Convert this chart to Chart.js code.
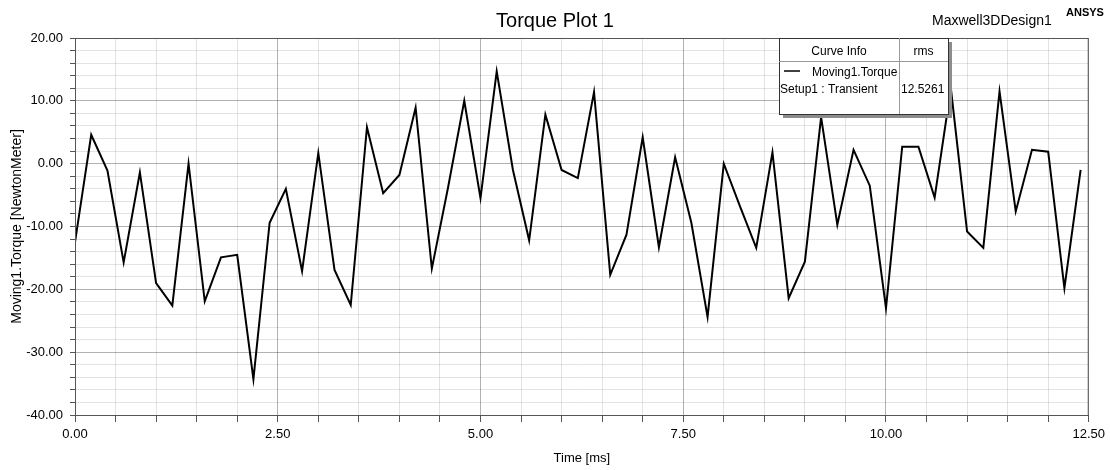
<!DOCTYPE html>
<html>
<head>
<meta charset="utf-8">
<title>Torque Plot 1</title>
<script src="https://cdn.jsdelivr.net/npm/chart.js@4.4.0/dist/chart.umd.min.js"></script>
<style>
html, body { margin: 0; padding: 0; background: #fff; }
#wrap { width: 1110px; height: 470px; }
</style>
</head>
<body>
<div id="wrap"><canvas id="torqueChart"></canvas></div>
<script>
// time in ms, one sample every 0.2 ms
var times = [0.0, 0.2, 0.4, 0.6, 0.8, 1.0, 1.2, 1.4, 1.6, 1.8,
	2.0, 2.2, 2.4, 2.6, 2.8, 3.0, 3.2, 3.4, 3.6, 3.8,
	4.0, 4.2, 4.4, 4.6, 4.8, 5.0, 5.2, 5.4, 5.6, 5.8,
	6.0, 6.2, 6.4, 6.6, 6.8, 7.0, 7.2, 7.4, 7.6, 7.8,
	8.0, 8.2, 8.4, 8.6, 8.8, 9.0, 9.2, 9.4, 9.6, 9.8,
	10.0, 10.2, 10.4, 10.6, 10.8, 11.0, 11.2, 11.4, 11.6, 11.8,
	12.0, 12.2, 12.4];

// Moving1.Torque [NewtonMeter]
var torque = [-12.5, 4.6, -1.1, -15.7, -1.4, -19.0, -22.6, 0.0, -21.9, -14.9,
	-14.5, -34.3, -9.4, -4.0, -17.1, 1.7, -16.9, -22.5, 5.8, -4.7,
	-1.8, 8.9, -16.7, -3.8, 10.0, -5.5, 14.7, -1.0, -12.2, 7.8,
	-1.0, -2.3, 11.4, -17.7, -11.3, 4.2, -13.3, 1.0, -9.4, -24.4,
	0.0, -6.8, -13.4, 1.8, -21.4, -15.6, 7.4, -9.7, 2.2, -3.5,
	-23.0, 2.7, 2.7, -5.4, 12.0, -10.8, -13.4, 11.5, -7.6, 2.2,
	1.9, -19.8, -1.0];

var xLabels = [0, 2.5, 5, 7.5, 10, 12.5];
var yLabels = [20, 10, 0, -10, -20, -30, -40];

var curveName = 'Moving1.Torque';
var setupName = 'Setup1 : Transient';
var rmsValue = '12.5261';

function isLabel(list, v) {
	for (var i = 0; i < list.length; i++) {
		if (Math.abs(list[i] - v) < 1e-6) return true;
	}
	return false;
}

var points = [];
for (var i = 0; i < times.length; i++) {
	points.push({x: times[i], y: torque[i]});
}

var FONT = '"Liberation Sans", Arial, sans-serif';
var MAJOR = 'rgba(0,0,0,0.30)';
var MINOR = 'rgba(0,0,0,0.11)';

// title, corner texts, plot frame and the curve info box
var decorations = {
	id: 'decorations',
	afterDraw: function (chart) {
		var ctx = chart.ctx;
		var a = chart.chartArea;
		ctx.save();

		ctx.strokeStyle = '#555';
		ctx.lineWidth = 1;
		ctx.strokeRect(a.left + 0.5, a.top + 0.5, a.right - a.left - 1, a.bottom - a.top);

		ctx.fillStyle = '#000';
		ctx.textBaseline = 'alphabetic';
		ctx.textAlign = 'center';
		ctx.font = '20px ' + FONT;
		ctx.fillText('Torque Plot 1', 555, 27);

		ctx.textAlign = 'left';
		ctx.font = '14px ' + FONT;
		ctx.fillText('Maxwell3DDesign1', 932, 25);
		ctx.font = 'bold 11px ' + FONT;
		ctx.fillText('ANSYS', 1066, 16);

		// curve info box
		var bx = 779, by = 38, bw = 169, bh = 76, split = 899;
		ctx.fillStyle = '#8c8c8c';
		ctx.fillRect(bx + 4, by + 4, bw, bh);
		ctx.fillStyle = '#fff';
		ctx.fillRect(bx, by, bw, bh);
		ctx.strokeStyle = '#333';
		ctx.strokeRect(bx + 0.5, by + 0.5, bw, bh);
		ctx.strokeStyle = '#999';
		ctx.beginPath();
		ctx.moveTo(bx, 61.5); ctx.lineTo(bx + bw, 61.5);
		ctx.moveTo(split + 0.5, by); ctx.lineTo(split + 0.5, by + bh);
		ctx.stroke();

		ctx.fillStyle = '#000';
		ctx.font = '12px ' + FONT;
		ctx.textBaseline = 'middle';
		ctx.textAlign = 'center';
		ctx.fillText('Curve Info', (bx + split) / 2, 52);
		ctx.fillText('rms', (split + bx + bw) / 2, 52);
		ctx.textAlign = 'left';
		ctx.fillText(curveName, 812, 73);
		ctx.fillText(setupName, 780, 90);
		ctx.fillText(rmsValue, 901, 90);
		ctx.strokeStyle = '#000';
		ctx.lineWidth = 1.5;
		ctx.beginPath();
		ctx.moveTo(784, 71); ctx.lineTo(800, 71);
		ctx.stroke();

		ctx.restore();
	}
};

var ctx = document.getElementById('torqueChart').getContext('2d');
var torqueChart = new Chart(ctx, {
	type: 'line',
	data: {
		datasets: [{
			label: curveName,
			data: points,
			borderColor: '#000',
			borderWidth: 2,
			pointRadius: 0,
			tension: 0,
			fill: false
		}]
	},
	options: {
		responsive: true,
		maintainAspectRatio: false,
		animation: false,
		layout: { padding: { top: 38, right: 20, left: 0, bottom: 0 } },
		plugins: {
			legend: { display: false },
			tooltip: { enabled: false }
		},
		scales: {
			x: {
				type: 'linear',
				min: 0,
				max: 12.5,
				afterFit: function (scale) { scale.height = 55; },
				ticks: {
					stepSize: 0.5,
					autoSkip: false,
					maxRotation: 0,
					padding: 5,
					color: '#000',
					font: { family: FONT, size: 13 },
					callback: function (v) { return isLabel(xLabels, v) ? v.toFixed(2) : ''; }
				},
				grid: {
					color: function (c) { return isLabel(xLabels, c.tick.value) ? MAJOR : MINOR; },
					tickColor: '#555',
					tickLength: 7
				},
				border: { color: '#555' },
				title: {
					display: true,
					text: 'Time [ms]',
					color: '#000',
					font: { family: FONT, size: 13 },
					padding: { top: 0, bottom: 4 }
				}
			},
			y: {
				min: -40,
				max: 20,
				afterFit: function (scale) { scale.width = 75; },
				ticks: {
					stepSize: 2,
					autoSkip: false,
					padding: 7,
					color: '#000',
					font: { family: FONT, size: 13 },
					callback: function (v) { return isLabel(yLabels, v) ? v.toFixed(2) : ''; }
				},
				grid: {
					color: function (c) { return isLabel(yLabels, c.tick.value) ? MAJOR : MINOR; },
					tickColor: '#555',
					tickLength: 5
				},
				border: { color: '#555' },
				title: {
					display: true,
					text: 'Moving1.Torque [NewtonMeter]',
					color: '#000',
					font: { family: FONT, size: 14 },
					padding: { top: 9, bottom: 0 }
				}
			}
		}
	},
	plugins: [decorations]
});
</script>
</body>
</html>
